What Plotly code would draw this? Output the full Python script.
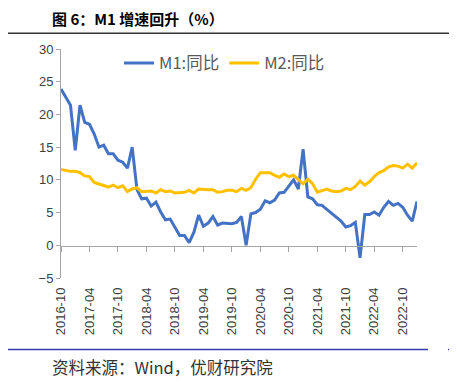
import plotly.graph_objects as go

months = []
y, m = 2016, 10
while (y, m) <= (2023, 1):
    months.append(f"{y}-{m:02d}")
    m += 1
    if m > 12:
        m = 1
        y += 1

m1_yoy = [23.9, 22.7, 21.4, 14.5, 21.4, 18.8, 18.5, 17.0, 15.0, 15.3, 14.0, 14.0,
          13.0, 12.7, 11.8, 15.0, 8.5, 7.1, 7.2, 6.0, 6.6, 5.1, 3.9, 4.0,
          2.7, 1.5, 1.5, 0.4, 2.0, 4.6, 2.9, 3.4, 4.4, 3.1, 3.4, 3.4,
          3.3, 3.5, 4.4, 0.0, 4.8, 5.0, 5.5, 6.8, 6.5, 6.9, 8.0, 8.1,
          9.1, 10.0, 8.6, 14.7, 7.4, 7.1, 6.2, 6.1, 5.5, 4.9, 4.2, 3.7,
          2.8, 3.0, 3.5, -1.9, 4.7, 4.7, 5.1, 4.6, 5.8, 6.7, 6.1, 6.4,
          5.8, 4.6, 3.7, 6.7]
m2_yoy = [11.6, 11.4, 11.3, 11.3, 11.1, 10.6, 10.5, 9.6, 9.4, 9.2, 8.9, 9.2,
          8.8, 9.1, 8.2, 8.6, 8.8, 8.2, 8.3, 8.3, 8.0, 8.5, 8.2, 8.3,
          8.0, 8.0, 8.1, 8.4, 8.0, 8.6, 8.5, 8.5, 8.5, 8.1, 8.2, 8.4,
          8.4, 8.2, 8.7, 8.4, 8.8, 10.1, 11.1, 11.1, 11.1, 10.7, 10.4, 10.9,
          10.5, 10.7, 10.1, 9.4, 10.1, 9.4, 8.1, 8.3, 8.6, 8.3, 8.2, 8.3,
          8.7, 8.5, 9.0, 9.8, 9.2, 9.7, 10.5, 11.1, 11.4, 12.0, 12.2, 12.1,
          11.8, 12.4, 11.8, 12.6]
tick_labels = months[::6]

title_text = "图 6：M1 增速回升（%）"
source_text = "资料来源：Wind，优财研究院"

# target page geometry (page pixels); the page body has an 8px default margin
PAGE_W, PAGE_H, BODY = 457, 390, 8
W, H = PAGE_W - BODY, PAGE_H - BODY
L, R, T, B = 61, 417, 49.3, 278.5


def px(xp):
    return (xp - L) / (R - L)


def py(yp):
    return (B - yp) / (B - T)


GRAY = "#A6A6A6"
TXT = "#404040"
FONT = "Noto Sans CJK SC"

fig = go.Figure()
fig.add_trace(go.Scatter(x=months, y=m1_yoy, name="M1:同比", mode="lines",
                         line=dict(color="#4472C4", width=3), xaxis="x", yaxis="y"))
fig.add_trace(go.Scatter(x=months, y=m2_yoy, name="M2:同比", mode="lines",
                         line=dict(color="#FFC000", width=3), xaxis="x2", yaxis="y"))

fig.update_layout(
    width=W, height=H,
    margin=dict(l=L - BODY, r=PAGE_W - R, t=T - BODY, b=PAGE_H - B, autoexpand=False),
    paper_bgcolor="white", plot_bgcolor="white",
    font=dict(family=FONT, color=TXT),
    showlegend=True,
    legend=dict(orientation="h", x=px(119), y=py(63.5), xanchor="left", yanchor="middle",
                font=dict(size=16.5, color="#595959"), bgcolor="rgba(0,0,0,0)",
                traceorder="normal"),
    xaxis=dict(type="category", range=[0, len(months) - 1], showline=False, ticks="",
               tickvals=tick_labels, ticktext=tick_labels, tickangle=-90,
               tickfont=dict(size=13, color=TXT, family="Liberation Sans"),
               showgrid=False, zeroline=False, ticklabelstandoff=6, automargin=False),
    xaxis2=dict(type="category", overlaying="x", matches="x", anchor="free",
                position=py(246.0), side="bottom", showline=True, linecolor=GRAY,
                linewidth=1, ticks="outside", ticklen=5, tickcolor=GRAY,
                tickvals=tick_labels, showticklabels=False, showgrid=False,
                zeroline=False, automargin=False),
    yaxis=dict(range=[-5, 30], dtick=5, showline=True, linecolor=GRAY, linewidth=1,
               ticks="outside", ticklen=4, tickcolor=GRAY, showgrid=False,
               zeroline=False, automargin=False,
               tickfont=dict(size=13, color=TXT, family="Liberation Sans")),
)

fig.add_annotation(text="<b>" + title_text + "</b>", xref="paper", yref="paper",
                   x=px(50), y=py(19), xanchor="left", yanchor="middle",
                   showarrow=False, font=dict(size=15, color="#000000", family=FONT))
fig.add_annotation(text=source_text, xref="paper", yref="paper",
                   x=px(50), y=py(367.5), xanchor="left", yanchor="middle",
                   showarrow=False, font=dict(size=16.5, color="#333333", family=FONT))

fig.add_shape(type="line", xref="paper", yref="paper", x0=px(8), x1=px(457),
              y0=py(33.5), y1=py(33.5), line=dict(color="#333333", width=1.5))
fig.add_shape(type="line", xref="paper", yref="paper", x0=px(8), x1=px(428),
              y0=py(350), y1=py(350), line=dict(color="#3B3BB0", width=1.5))
fig.add_shape(type="line", xref="paper", yref="paper", x0=px(448), x1=px(457),
              y0=py(350), y1=py(350), line=dict(color="#3B3BB0", width=1.5))

fig.write_html("out.html")
